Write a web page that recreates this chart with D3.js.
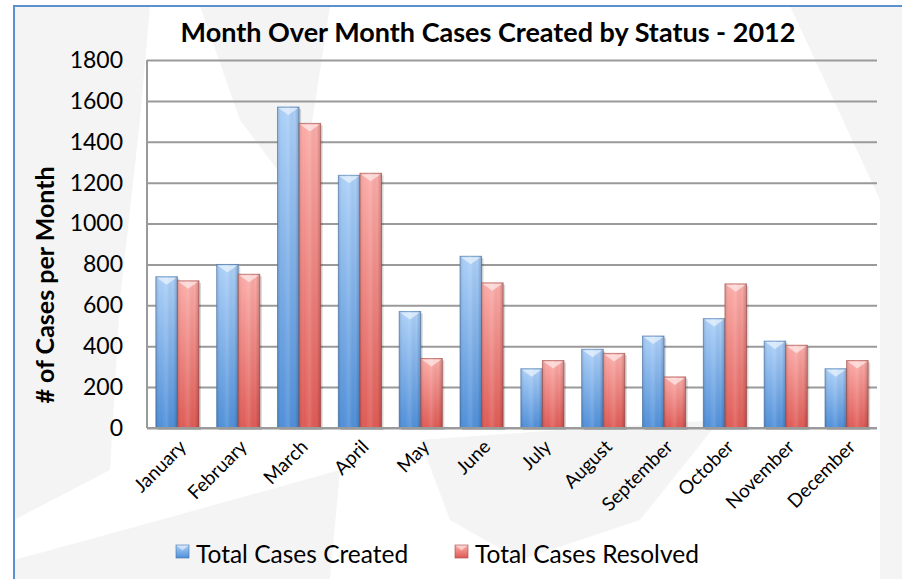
<html>
<script src='https://d3js.org/d3.v7.min.js'></script>
<style>
  body {margin: 0; background: #fff;}
  text {font-family: Lato, 'Liberation Sans', sans-serif; fill: #000;}
</style>
<body onload='init()'>
<svg width=902 height=579>
</svg>
<script>
const months = ['January','February','March','April','May','June','July','August','September','October','November','December'];
const created  = [740, 800, 1570, 1236, 570, 840, 290, 385, 450, 535, 425, 290];
const resolved = [720, 752, 1490, 1246, 340, 710, 330, 365, 250, 705, 405, 330];
const seriesNames = ['Total Cases Created', 'Total Cases Resolved'];
const yTicks = [0, 200, 400, 600, 800, 1000, 1200, 1400, 1600, 1800];

function init() {
  const svg = d3.select('svg');
  const left = 147, right = 877, top = 60, bottom = 428;

  // background with faint watermark shapes
  svg.append('rect').attr('width', 902).attr('height', 579).attr('fill', '#ffffff');
  const shapes = [
    [[14,6],[150,6],[140,120],[120,300],[110,470],[14,520]],
    [[200,6],[330,6],[300,200],[240,120]],
    [[14,560],[160,520],[340,470],[330,579],[14,579]],
    [[420,440],[560,430],[720,420],[640,520],[520,560],[450,520]],
    [[790,6],[902,6],[902,579],[880,579],[880,200]]
  ];
  svg.append('g').selectAll('polygon').data(shapes).enter().append('polygon')
    .attr('points', d => d.map(p => p.join(',')).join(' '))
    .attr('fill', '#ececec').attr('opacity', 0.6);

  // chart frame
  svg.append('path').attr('d', 'M14,579 L14,6 L902,6')
    .attr('fill', 'none').attr('stroke', '#5b8fcf').attr('stroke-width', 2);

  const defs = svg.append('defs');
  function vgrad(id, c1, c2) {
    const g = defs.append('linearGradient').attr('id', id)
      .attr('x1', 0).attr('y1', 0).attr('x2', 0).attr('y2', 1);
    g.append('stop').attr('offset', '0%').attr('stop-color', c1);
    g.append('stop').attr('offset', '100%').attr('stop-color', c2);
  }
  vgrad('g0', '#acd0f8', '#4f8fd9');
  vgrad('g1', '#fbaca8', '#df5a55');
  const hg = defs.append('linearGradient').attr('id', 'hshade')
    .attr('x1', 0).attr('y1', 0).attr('x2', 1).attr('y2', 0);
  [['0%', '#000', 0.14], ['25%', '#fff', 0.0], ['50%', '#fff', 0.12], ['80%', '#000', 0.0], ['100%', '#000', 0.2]]
    .forEach(s => hg.append('stop').attr('offset', s[0]).attr('stop-color', s[1]).attr('stop-opacity', s[2]));

  const x = d3.scaleBand().domain(months).range([left, right]).paddingInner(0.29).paddingOuter(0.145);
  const xs = d3.scaleBand().domain([0, 1]).range([0, x.bandwidth()]);
  const y = d3.scaleLinear().domain([0, 1800]).range([bottom, top]);

  // gridlines
  svg.append('g').call(d3.axisLeft(y).tickValues(yTicks).tickSize(-(right - left)).tickFormat(''))
    .attr('transform', 'translate(' + left + ',0)')
    .call(g => g.select('.domain').remove())
    .call(g => g.selectAll('line').attr('stroke', '#9a9a9a').attr('stroke-width', 2));
  svg.append('line').attr('x1', left).attr('x2', left).attr('y1', top).attr('y2', bottom)
    .attr('stroke', '#9a9a9a').attr('stroke-width', 2);

  // y tick labels
  svg.append('g').attr('transform', 'translate(' + left + ',0)')
    .call(d3.axisLeft(y).tickValues(yTicks).tickSize(0).tickPadding(24).tickFormat(d3.format('d')))
    .call(g => g.select('.domain').remove())
    .call(g => g.selectAll('text').style('font-size', '23px').attr('fill', '#000')
      .style('font-family', 'Lato, sans-serif'));

  const data = [];
  months.forEach((m, i) => {
    data.push({m: m, s: 0, v: created[i]});
    data.push({m: m, s: 1, v: resolved[i]});
  });

  const bars = svg.append('g').selectAll('g').data(data).enter().append('g')
    .attr('transform', d => 'translate(' + (x(d.m) + xs(d.s)) + ',' + y(d.v) + ')');
  const w = xs.bandwidth();
  bars.append('rect').attr('x', 2).attr('y', 2).attr('width', w).attr('height', d => bottom - y(d.v))
    .attr('fill', '#000').attr('opacity', 0.15);
  bars.append('rect').attr('width', w).attr('height', d => bottom - y(d.v))
    .attr('fill', d => 'url(#g' + d.s + ')')
    .attr('stroke', d => d.s ? '#a04844' : '#3f6fa6').attr('stroke-opacity', 0.6).attr('stroke-width', 1);
  bars.append('rect').attr('width', w).attr('height', d => bottom - y(d.v)).attr('fill', 'url(#hshade)');
  bars.append('path')
    .attr('d', 'M1,1 L' + (w - 1) + ',1 L' + (w / 2) + ',8 Z')
    .attr('fill', '#fff').attr('opacity', 0.55);

  // bottom axis line
  svg.append('line').attr('x1', left).attr('x2', right).attr('y1', bottom).attr('y2', bottom)
    .attr('stroke', '#9a9a9a').attr('stroke-width', 2);

  // x labels
  svg.append('g').selectAll('text').data(months).enter().append('text')
    .attr('transform', d => 'translate(' + (x(d) + x.bandwidth() / 2 + 10) + ',' + (bottom + 20) + ') rotate(-45)')
    .attr('text-anchor', 'end').style('font-size', '19px').text(d => d);

  // titles
  svg.append('text').attr('x', 488).attr('y', 42).attr('text-anchor', 'middle')
    .style('font-size', '27px').style('font-weight', 'bold').text('Month Over Month Cases Created by Status - 2012');
  svg.append('text').attr('transform', 'translate(54,' + ((top + bottom) / 2 + 41) + ') rotate(-90)')
    .attr('text-anchor', 'middle').style('font-size', '25px').style('font-weight', 'bold')
    .text('# of Cases per Month');

  // legend
  const lx = [176, 455];
  const leg = svg.append('g').selectAll('g').data(seriesNames).enter().append('g')
    .attr('transform', (d, i) => 'translate(' + lx[i] + ',545)');
  leg.append('rect').attr('width', 13).attr('height', 13).attr('fill', (d, i) => 'url(#g' + i + ')')
    .attr('stroke', (d, i) => i ? '#a04844' : '#3f6fa6').attr('stroke-opacity', 0.6);
  leg.append('path').attr('d', 'M0.5,0.5 L12.5,0.5 L6.5,5.5 Z').attr('fill', '#fff').attr('opacity', 0.5);
  leg.append('text').attr('x', 20).attr('y', 18).style('font-size', '24.5px').text(d => d);
}
</script>
</body>
</html>
